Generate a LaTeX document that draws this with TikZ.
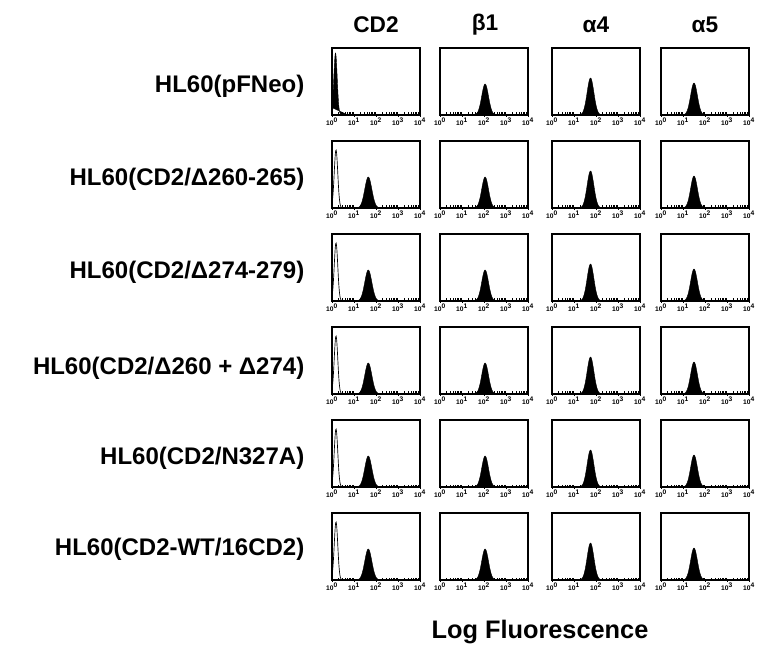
\documentclass[tikz,border=0pt]{standalone}
\usepackage{fontspec}
\setmainfont{Liberation Sans}
\begin{document}
\begin{tikzpicture}[x=0.75pt,y=0.75pt,
    rowlabel/.style={anchor=east, font=\bfseries\fontsize{18}{20}\selectfont},
    colhead/.style={font=\bfseries\fontsize{17}{19}\selectfont},
    frame/.style={draw, line width=0.9pt},
    peak/.style={fill=black, draw=black, line width=0.3pt},
    open/.style={draw=black, line width=0.5pt}]
    \useasboundingbox (0,0) rectangle (764,654);
    % column headers
    \node[colhead] (hcd) at (376,629) {CD2};
    \node[colhead] (hb) at (485,629) {β1};
    \node[colhead] (ha) at (596,629) {α4};
    \node[colhead] (hf) at (705,629) {α5};
    % row labels
    \node[rowlabel] (r1) at (309,568) {HL60(pFNeo)};
    \node[rowlabel] (r2) at (309,475) {HL60(CD2/Δ260-265)};
    \node[rowlabel] (r3) at (309,382) {HL60(CD2/Δ274-279)};
    \node[rowlabel] (r4) at (309,286) {HL60(CD2/Δ260 + Δ274)};
    \node[rowlabel] (r5) at (309,196) {HL60(CD2/N327A)};
    \node[rowlabel] (r6) at (309,105) {HL60(CD2-WT/16CD2)};
    % panels
    \foreach \r/\yb in {1/539,2/446,3/353,4/260,5/167,6/74}{
      \foreach \c/\xl/\mu/\h in {1/332/1.65/31,2/440/2.05/31,3/552/1.75/37,4/661/1.5/32}{
        \begin{scope}[shift={(\xl,\yb)}]
          \ifnum\c=1
            \ifnum\r=1
              \fill[peak] plot[domain=0:16,samples=60,smooth] (\x,{62*exp(-((\x-3.5)/2.4)^2)}) -- cycle;
            \else
              \draw[open] plot[domain=0:22,samples=60,smooth] (\x,{58*exp(-((\x-4)/2.5)^2)});
              \fill[peak] plot[domain={22*\mu-15}:{22*\mu+15},samples=60,smooth] (\x,{\h*exp(-((\x-22*\mu)/5)^2)}) -- cycle;
            \fi
          \else
            \fill[peak] plot[domain={22*\mu-15}:{22*\mu+15},samples=60,smooth] (\x,{\h*exp(-((\x-22*\mu)/4.8)^2)}) -- cycle;
          \fi
          \draw[frame] (0,0) rectangle (88,67);
          \foreach \d in {0,...,3}{
            \foreach \m in {2,...,9}{
              \draw[line width=0.4pt] ({22*(\d+log10(\m))},0) -- ++(0,2.5);
            }
          }
          \foreach \d in {0,...,4}{
            \draw[line width=0.5pt] ({22*\d},0) -- ++(0,-2);
            \node[font=\bfseries\fontsize{5}{5}\selectfont, inner sep=0pt] at ({22*\d},-7) {10\textsuperscript{\d}};
          }
        \end{scope}
      }
    }
    % axis title
    \node[font=\bfseries\fontsize{19}{21}\selectfont] (xt) at (540,22) {Log Fluorescence};
\end{tikzpicture}
\end{document}
